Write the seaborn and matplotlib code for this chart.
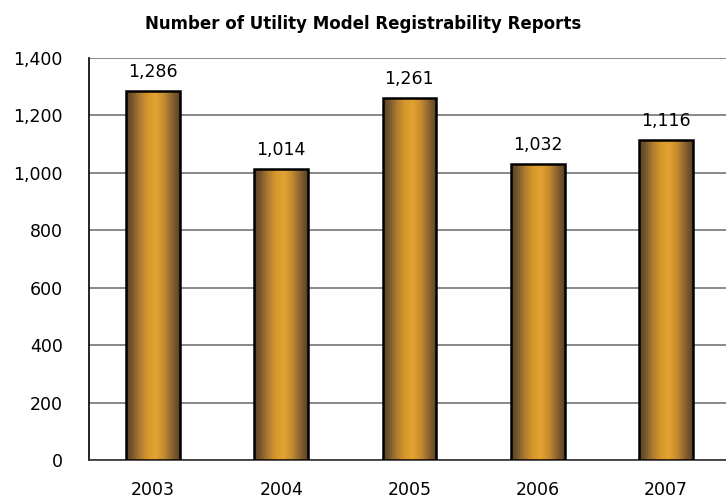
import numpy as np
import pandas as pd
import seaborn as sns
import matplotlib.pyplot as plt
import matplotlib.ticker as mticker
from matplotlib.colors import LinearSegmentedColormap

years = ["2003", "2004", "2005", "2006", "2007"]
reports = [1286, 1014, 1261, 1032, 1116]

data = pd.DataFrame({"year": years, "reports": reports})

sns.set_style("white")
plt.rcParams["font.family"] = ["DejaVu Sans"]
plt.rcParams["text.color"] = "black"

fig = plt.figure(figsize=(7.26, 5.01), dpi=100)
ax = fig.add_axes([89 / 726, 41 / 501, 1 - 89 / 726, 402 / 501])

sns.barplot(data=data, x="year", y="reports", ax=ax, width=0.42,
            color="#d99a2c", edgecolor="black", linewidth=1.8, zorder=3)

# cylinder-like shading: dark edges, bright middle
shade = LinearSegmentedColormap.from_list("shade", [
    (0.0, "#5a4226"), (0.12, "#76572e"), (0.25, "#ad7a30"),
    (0.4, "#d5962c"), (0.55, "#e3a232"), (0.7, "#c98d30"),
    (0.85, "#8a6430"), (1.0, "#5a4226")])
grad = np.linspace(0, 1, 256).reshape(1, -1)
for bar in ax.patches:
    x0, y0 = bar.get_x(), bar.get_y()
    w, h = bar.get_width(), bar.get_height()
    im = ax.imshow(grad, cmap=shade, aspect="auto", zorder=3.5,
                   extent=(x0, x0 + w, y0, y0 + h), interpolation="bicubic")
    im.set_clip_path(bar)
    bar.set_facecolor("none")
    bar.set_zorder(4)

for i, v in enumerate(reports):
    ax.annotate(f"{v:,}", (i, v), xytext=(0, 7), textcoords="offset points",
                ha="center", va="bottom", fontsize=12.5, color="black")

ax.set_xlim(-0.5, 4.47)
ax.set_ylim(0, 1400)
ax.yaxis.set_major_locator(mticker.MultipleLocator(200))
ax.yaxis.set_major_formatter(mticker.FuncFormatter(lambda v, p: f"{int(v):,}"))
ax.grid(axis="y", color="#808080", linewidth=1.3, zorder=1)
ax.set_axisbelow(True)

ax.xaxis.set_minor_locator(mticker.FixedLocator([0.5, 1.5, 2.5, 3.5]))
ax.tick_params(axis="x", which="major", length=0, pad=15, labelsize=12.5,
               labelcolor="black")
ax.tick_params(axis="x", which="minor", direction="in", length=5,
               width=1, color="#333333")
ax.tick_params(axis="y", length=0, pad=19, labelsize=12.5, labelcolor="black")

ax.set_xlabel("")
ax.set_ylabel("")
for side in ["top", "right"]:
    ax.spines[side].set_visible(False)
ax.spines["left"].set_color("black")
ax.spines["left"].set_linewidth(1.2)
ax.spines["bottom"].set_color("#333333")
ax.spines["bottom"].set_linewidth(1.2)

fig.text(0.5, 1 - 24 / 501, "Number of Utility Model Registrability Reports",
         ha="center", va="center", fontsize=12, fontweight="bold", color="black")

fig.savefig("out.png", dpi=100)
